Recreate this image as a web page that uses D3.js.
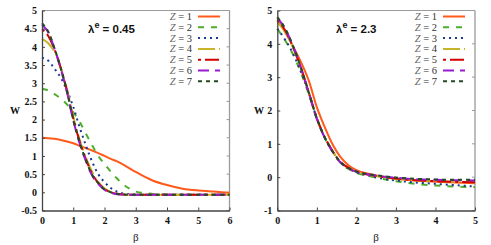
<!DOCTYPE html>
<html><head><meta charset="utf-8">
<script src="https://cdn.jsdelivr.net/npm/d3@7"></script>
<style>body{margin:0;background:#fff}svg{display:block}
.serif{font-family:"Liberation Serif","DejaVu Serif",serif}
.sans{font-family:"Liberation Sans","DejaVu Sans",sans-serif}</style>
</head><body>
<svg id="c" width="491" height="245"></svg>
<script>
// ---------- data ----------
const seriesNames = ["Z = 1","Z = 2","Z = 3","Z = 4","Z = 5","Z = 6","Z = 7"];
const zLabels = ["1","2","3","4","5","6","7"];
const colors = ["#ff5a1a","#4cae2a","#1a3a8c","#c8b428","#d40000","#9a1ad0","#244a24"];
const dashes = ["", "6,7", "2,4", "17,4,1,4", "3,4,14,4", "11,6", "4,4"];

// panel A: lambda^e = 0.45
const betaA = [0,0.2,0.4,0.6,0.8,1.0,1.2,1.4,1.6,1.8,2.0,2.2,2.4,2.6,2.8,3.0,3.5,4,4.5,5,5.5,6];
const wA1 = [1.5,1.49,1.47,1.44,1.4,1.35,1.28,1.22,1.15,1.08,1.0,0.92,0.85,0.76,0.66,0.56,0.34,0.2,0.1,0.05,0.02,-0.01];
const wA2 = [2.85,2.8,2.7,2.58,2.42,2.2,1.95,1.62,1.3,1.0,0.78,0.57,0.38,0.22,0.1,0.02,-0.04,-0.06,-0.07,-0.07,-0.07,-0.07];
const wA3 = [3.7,3.62,3.4,3.15,2.8,2.35,1.8,1.3,0.85,0.5,0.28,0.12,0.02,-0.03,-0.05,-0.06,-0.07,-0.07,-0.07,-0.07,-0.07,-0.07];
const wA4 = [4.22,4.1,3.86,3.42,2.82,2.08,1.46,0.97,0.57,0.29,0.11,0.01,-0.04,-0.06,-0.07,-0.07,-0.07,-0.07,-0.07,-0.07,-0.07,-0.07];
const wA5 = [4.48,4.3,3.93,3.42,2.79,2.03,1.41,0.92,0.52,0.26,0.09,0.0,-0.04,-0.06,-0.07,-0.07,-0.07,-0.07,-0.07,-0.07,-0.07,-0.07];
const wA6 = [4.6,4.4,3.95,3.4,2.75,1.98,1.36,0.87,0.47,0.23,0.07,-0.01,-0.05,-0.06,-0.07,-0.07,-0.07,-0.07,-0.07,-0.07,-0.07,-0.07];
const wA7 = [4.65,4.42,3.96,3.42,2.77,2.0,1.38,0.89,0.49,0.25,0.08,0.0,-0.04,-0.06,-0.07,-0.07,-0.07,-0.07,-0.07,-0.07,-0.07,-0.07];

// panel B: lambda^e = 2.3
const betaB = [0,0.2,0.4,0.6,0.8,1.0,1.2,1.4,1.6,1.8,2.0,2.3,2.6,3.0,3.5,4,4.5,5];
const wB1 = [4.7,4.35,3.92,3.45,2.88,2.1,1.5,0.98,0.6,0.36,0.21,0.1,0.03,-0.05,-0.1,-0.14,-0.16,-0.18];
const wB2 = [4.45,4.1,3.68,3.13,2.48,1.75,1.18,0.76,0.43,0.25,0.13,0.04,-0.04,-0.12,-0.2,-0.25,-0.28,-0.3];
const wB3 = [4.45,4.12,3.7,3.15,2.5,1.76,1.19,0.77,0.44,0.26,0.14,0.05,-0.03,-0.1,-0.16,-0.2,-0.24,-0.28];
const wB4 = [4.65,4.35,3.88,3.26,2.52,1.76,1.2,0.78,0.45,0.28,0.16,0.07,0.01,-0.05,-0.1,-0.12,-0.14,-0.15];
const wB5 = [4.72,4.4,3.9,3.27,2.53,1.77,1.2,0.78,0.45,0.28,0.16,0.08,0.02,-0.04,-0.09,-0.12,-0.14,-0.15];
const wB6 = [4.78,4.45,3.92,3.28,2.52,1.75,1.18,0.76,0.44,0.27,0.16,0.08,0.03,-0.02,-0.06,-0.08,-0.09,-0.1];
const wB7 = [4.8,4.46,3.93,3.28,2.53,1.76,1.19,0.77,0.45,0.28,0.17,0.09,0.04,-0.01,-0.05,-0.07,-0.08,-0.08];

const ticksXA = [0,1,2,3,4,5,6];
const ticksYA = [-0.5,0,0.5,1,1.5,2,2.5,3,3.5,4,4.5,5];
const ticksXB = [0,1,2,3,4,5];
const ticksYB = [-1,0,1,2,3,4,5];

const panels = [
  {left:42, right:229.5, xDomain:[0,6], yDomain:[-0.5,5], xt:ticksXA, yt:ticksYA, beta:betaA,
   ws:[wA1,wA2,wA3,wA4,wA5,wA6,wA7], title:"0.45", titleX:88, legX:192, wX:15},
  {left:277.3, right:475, xDomain:[0,5], yDomain:[-1,5], xt:ticksXB, yt:ticksYB, beta:betaB,
   ws:[wB1,wB2,wB3,wB4,wB5,wB6,wB7], title:"2.3", titleX:336, legX:437, wX:259}
];

const svg = d3.select("#c");
const plotTop = 10.5, plotBottom = 210.5;

panels.forEach(p => {
  const x = d3.scaleLinear().domain(p.xDomain).range([p.left, p.right]);
  const y = d3.scaleLinear().domain(p.yDomain).range([plotBottom, plotTop]);
  const g = svg.append("g");

  g.append("line").attr("x1",p.left).attr("x2",p.right).attr("y1",plotTop).attr("y2",plotTop)
    .attr("stroke","#9a9a9a").attr("stroke-width",1);
  g.append("line").attr("x1",p.right).attr("x2",p.right).attr("y1",plotTop).attr("y2",plotBottom)
    .attr("stroke","#9a9a9a").attr("stroke-width",1.3);
  p.yt.forEach(t => {
    g.append("line").attr("x1",p.right-3).attr("x2",p.right).attr("y1",y(t)).attr("y2",y(t))
      .attr("stroke","#9a9a9a");
  });

  const line = d3.line().x((d,i)=>x(p.beta[i])).y(d=>y(d)).curve(d3.curveMonotoneX);
  p.ws.forEach((w,i) => {
    g.append("path").attr("d", line(w)).attr("fill","none")
      .attr("stroke", colors[i]).attr("stroke-width", 2)
      .attr("stroke-dasharray", dashes[i] || null);
  });

  const ax = d3.axisBottom(x).tickValues(p.xt).tickSizeInner(-3).tickSizeOuter(0).tickPadding(6)
    .tickFormat(d=>String(d));
  const ay = d3.axisLeft(y).tickValues(p.yt).tickSizeInner(-3).tickSizeOuter(0).tickPadding(5)
    .tickFormat(d=>String(d));
  const gx = g.append("g").attr("transform",`translate(0,${plotBottom})`).call(ax);
  const gy = g.append("g").attr("transform",`translate(${p.left},0)`).call(ay);
  [gx,gy].forEach(a => {
    a.attr("font-family",null).attr("font-size",null);
    a.select(".domain").attr("stroke","#444").attr("stroke-width",1.3);
    a.selectAll(".tick line").attr("stroke","#444");
    a.selectAll("text").attr("class","serif").style("font-weight","bold")
      .style("font-size","10px").attr("fill","#111");
  });

  g.append("text").attr("class","serif").attr("x",(p.left+p.right)/2).attr("y",241).attr("text-anchor","middle")
    .style("font-size","11px").attr("fill","#222").text("β");
  g.append("text").attr("class","serif").attr("x",p.wX).attr("y",114).attr("text-anchor","middle")
    .style("font-weight","bold").style("font-size","10px").attr("fill","#111").text("W");

  const tt = g.append("text").attr("class","sans").attr("x",p.titleX).attr("y",33)
    .style("font-weight","bold").style("font-size","11.5px").attr("fill","#111");
  tt.append("tspan").text("λ");
  tt.append("tspan").attr("dy",-5).style("font-size","9px").text("e");
  tt.append("tspan").attr("dy",5).text(" = " + p.title);

  seriesNames.forEach((s,i) => {
    const ly = 16.5 + i*10.8;
    const t = g.append("text").attr("class","serif").attr("x",p.legX).attr("y",ly+3.5).attr("text-anchor","end")
      .style("font-size","10.5px").attr("fill","#333");
    t.append("tspan").style("font-style","italic").attr("fill","#666").text("Z");
    t.append("tspan").text(" = " + zLabels[i]);
    g.append("line").attr("x1",p.legX+6).attr("x2",p.legX+28).attr("y1",ly).attr("y2",ly)
      .attr("stroke",colors[i]).attr("stroke-width",2).attr("stroke-dasharray",dashes[i]||null);
  });
});
</script>
</body></html>
